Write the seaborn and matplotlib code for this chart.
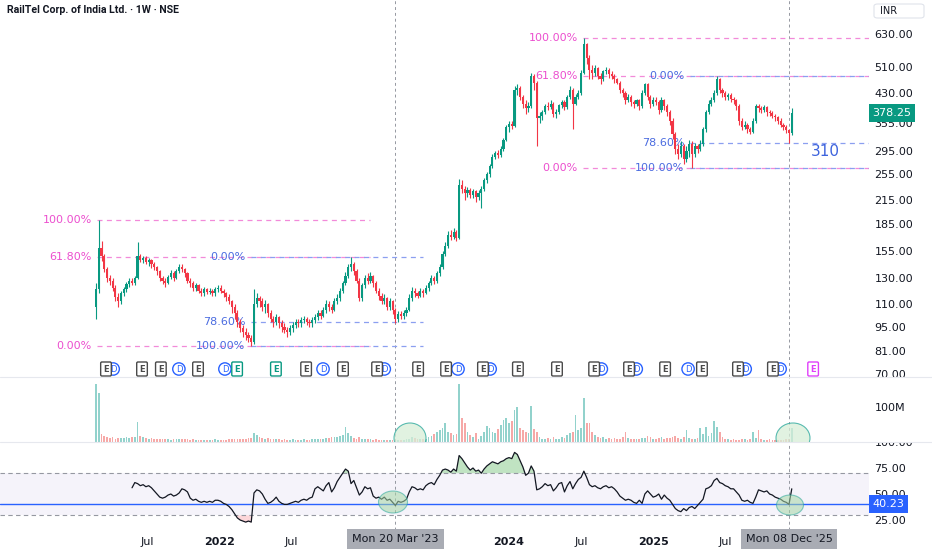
import numpy as np
import pandas as pd
import matplotlib
matplotlib.use("Agg")
import matplotlib.pyplot as plt
import seaborn as sns
from matplotlib.patches import Ellipse, Rectangle, FancyBboxPatch
from matplotlib.lines import Line2D
from matplotlib.ticker import NullLocator
from matplotlib.transforms import blended_transform_factory as btf

# ---------------- data (weekly, from week of 2021-02-22) ----------------
first_open = 108
closes = [
    121,158,150,138,130,128,122,115,112,118,
    121,125,128,126,130,150,146,148,144,146,
    142,140,136,130,128,126,131,134,130,136,
    140,138,134,128,126,122,124,120,118,121,
    119,120,118,121,122,120,118,115,112,108,
    104,98,94,92,90,88,86,110,114,112,
    108,110,104,100,98,101,97,95,93,92,
    94,96,98,97,99,100,98,97,99,101,
    104,102,106,110,108,106,112,114,120,126,
    132,140,142,136,128,114,124,130,128,132,
    126,120,116,112,114,108,112,106,100,103,
    102,104,106,114,120,118,116,120,118,122,
    126,130,128,134,140,152,160,172,170,175,
    168,238,232,225,230,222,228,220,226,232,
    245,255,268,285,292,288,300,318,345,352,
    348,440,445,420,400,390,395,480,460,365,
    370,380,395,392,400,375,380,398,405,392,
    420,440,402,420,430,490,590,540,500,490,
    505,480,470,495,500,485,480,470,460,440,
    430,410,420,405,400,410,395,430,455,420,
    400,410,405,385,410,395,380,360,330,300,
    290,305,280,295,310,290,305,300,310,340,
    380,400,410,430,470,440,430,420,425,415,
    410,395,360,345,350,340,335,360,395,390,
    385,392,380,378,372,368,360,350,345,338,
    333,378.25,
]
highs = [
    126,189,165,152,140,133,130,124,118,120,
    123,127,130,130,132,164,152,150,150,148,
    147,144,141,137,132,130,133,137,136,138,
    142,142,139,135,130,128,126,125,122,123,
    122,122,121,123,124,124,121,119,117,113,
    110,106,100,96,94,92,90,121,118,116,
    114,113,111,106,102,103,102,99,97,95,
    96,98,100,100,101,102,101,100,101,103,
    106,106,108,113,112,110,114,117,122,128,
    135,142,149,144,138,130,126,133,134,135,
    133,128,122,118,117,115,114,113,107,105,
    105,106,108,117,123,122,120,122,121,124,
    128,133,132,136,142,155,164,176,178,180,
    177,247,245,236,234,233,232,230,230,236,
    248,258,272,290,296,298,305,322,350,358,
    360,450,455,450,425,410,405,490,485,465,
    380,385,400,405,410,405,388,402,412,410,
    425,450,445,428,440,500,614,595,550,515,
    515,510,490,500,510,505,495,485,475,465,
    445,435,428,425,412,415,415,440,460,458,
    425,418,420,410,418,415,400,385,365,335,
    310,315,310,305,318,315,312,310,318,345,
    385,410,418,440,480,475,445,435,430,430,
    420,415,400,365,360,355,345,365,402,400,
    395,398,395,385,382,376,372,365,355,350,
    342,390,
]
lows = [
    100,118,145,135,127,124,120,112,108,110,
    116,119,123,124,124,129,144,143,142,141,
    139,137,133,128,125,123,125,129,128,129,
    134,135,131,126,123,120,120,118,116,116,
    117,117,116,116,119,118,115,112,110,104,
    100,95,92,89,87,86,84,85,108,108,
    105,104,101,98,95,96,94,92,91,89,
    90,92,94,95,95,97,96,95,95,97,
    99,100,101,104,105,104,105,110,112,118,
    124,130,136,133,126,112,112,122,125,126,
    123,118,113,110,110,106,106,103,97,98,
    100,100,102,105,112,115,114,115,115,117,
    120,124,125,126,132,138,150,158,166,167,
    165,167,225,215,220,218,218,212,215,205,
    228,240,250,265,280,282,285,295,315,335,
    340,345,425,410,390,375,380,390,440,305,
    355,362,375,385,388,368,365,375,390,385,
    388,415,340,398,415,425,485,520,470,470,
    480,470,455,465,485,475,470,460,455,430,
    420,400,405,395,390,395,385,390,425,410,
    390,395,398,375,380,385,370,350,320,290,
    280,285,272,275,285,265,285,292,295,305,
    335,375,395,405,425,430,420,412,410,405,
    400,385,350,338,340,333,330,332,355,380,
    378,380,372,370,365,360,352,345,338,332,
    311,328,
]
volume_m = [
    165,140,22,18,15,12,14,10,12,11,
    12,14,12,13,15,57,18,14,12,10,
    12,9,10,8,9,8,9,7,8,8,
    9,10,9,8,7,8,7,6,6,7,
    6,7,6,8,6,7,6,7,8,8,
    9,9,8,9,10,12,11,26,20,14,
    12,10,11,9,8,8,9,7,8,7,
    7,8,7,6,7,8,7,7,8,9,
    8,10,9,11,12,15,13,15,18,20,
    43,25,16,12,10,14,9,10,8,9,
    7,8,6,7,5,6,5,6,8,6,
    5,7,8,10,14,12,9,10,8,10,
    14,18,22,28,34,40,54,30,25,20,
    22,165,69,55,30,20,15,25,10,18,
    28,45,40,28,25,38,50,62,70,55,
    60,91,100,40,35,28,25,103,38,30,
    15,10,8,12,9,14,8,10,15,12,
    20,25,30,77,35,40,126,54,54,30,
    20,14,12,15,10,11,9,12,10,9,
    13,28,12,9,8,10,9,12,11,18,
    14,10,9,11,13,10,12,11,15,18,
    12,10,14,34,11,10,9,12,40,22,
    43,18,26,60,43,28,15,10,8,7,
    8,6,7,8,9,7,8,28,12,34,
    9,7,6,8,6,5,7,6,5,8,
    10,40,
]
nan = np.nan
rsi = [
    nan,nan,nan,nan,nan,nan,nan,nan,nan,nan,
    nan,nan,nan,56,61,60,58,59,57,58,
    56,53,50,47,46,47,49,50,48,49,
    51,55,54,52,46,44,45,43,42,43,
    42,43,42,44,44,43,41,40,38,35,
    31,27,25,24,23,24,23,51,54,53,
    50,45,41,42,44,47,43,41,40,40,
    41,42,43,42,44,45,44,46,47,55,
    57,55,53,58,61,52,56,62,66,70,
    74,72,60,63,56,49,52,57,55,56,
    48,46,47,45,47,44,45,42,39,43,
    42,43,45,52,57,56,54,55,54,58,
    60,61,59,64,68,73,74,73,71,74,
    72,87,84,80,76,73,75,72,73,70,
    74,77,79,81,80,79,81,82,84,85,
    84,90,88,82,76,68,70,77,72,54,
    55,57,60,58,59,53,56,60,61,52,
    58,62,55,60,64,66,72,66,59,57,
    58,56,55,57,58,56,57,55,52,48,
    46,44,45,44,42,41,44,41,50,53,
    50,47,48,50,45,49,46,44,40,36,
    34,33,36,34,37,38,36,39,42,45,
    55,56,58,63,65,61,60,58,57,55,
    55,52,49,44,43,44,42,41,47,54,
    53,52,53,50,49,47,46,45,43,42,
    40,55,
]
price_ticks = [630, 510, 430, 355, 295, 255, 215, 185, 155, 130, 110, 95, 81, 70]
rsi_ticks = [25, 50, 75, 100]
rsi_level = 40.23
last_price = 378.25
x_tick_dates = ["2021-07-01", "2022-01-01", "2022-07-01", "2024-01-01", "2024-07-01", "2025-01-01", "2025-07-01"]
x_tick_labels = ["Jul", "2022", "Jul", "2024", "Jul", "2025", "Jul"]
cross_dates = ["2023-03-20", "2025-12-08"]
cross_labels = ["Mon 20 Mar '23", "Mon 08 Dec '25"]
# fib swings (price)
fib1_high, fib1_low = 189.3, 83.9
fib1b_high, fib1b_low = 149.0, 83.9
fib2_high, fib2_low = 614.0, 265.0
fib2b_high, fib2b_low = 480.7, 265.0
# events: (week index, kind)
events = [(3.6, "E"), (16.6, "E"), (23.4, "E"), (29.9, "D"), (36.8, "E"), (46.5, "D"), (50.9, "Eg"),
          (64.9, "Eg"), (75.8, "E"), (81.9, "D"), (89.1, "E"), (101.4, "E"), (116.2, "E"), (126.3, "E"),
          (130.6, "D"), (139.6, "E"), (152.2, "E"), (166.3, "E"), (179.7, "E"), (192.3, "E"), (205.3, "E"),
          (213.6, "D"), (218.6, "E"), (231.6, "E"), (244.2, "E"), (258.7, "Ep")]
hidden_d = [3.6, 101.4, 139.6, 179.7, 192.3, 231.6, 244.2]

n = len(closes)
for arr in (highs, lows, volume_m, rsi):
    assert len(arr) == n, len(arr)

start = pd.Timestamp("2021-02-22")
def widx(d):
    return (pd.Timestamp(d) - start).days / 7.0

idx = np.arange(n)
c = np.array(closes, float)
o = np.array([first_open] + closes[:-1], float)
hi = np.maximum(np.array(highs, float), np.maximum(o, c))
lo = np.minimum(np.array(lows, float), np.minimum(o, c))
up = c >= o
GREEN, RED = "#089981", "#f23645"
cols = np.where(up, GREEN, RED)

# ---------------- layout ----------------
sns.set_theme(style="white")
plt.rcParams['font.family'] = ['DejaVu Sans']
W, H = 932, 550
fig = plt.figure(figsize=(W / 100, H / 100), dpi=100)
def fx(px): return px / W
def fy(py): return 1 - py / H

RIGHT = 869
X0 = 96.0
PXW = 2.772
ax_p = fig.add_axes([0, fy(377), RIGHT / W, 377 / H])
ax_v = fig.add_axes([0, fy(442), RIGHT / W, 65 / H])
ax_r = fig.add_axes([0, fy(530), RIGHT / W, 88 / H])
xlim = (-X0 / PXW, (RIGHT - X0) / PXW)
for ax in (ax_p, ax_v, ax_r):
    ax.set_xlim(*xlim)
    ax.set_facecolor("white")
    for s in ax.spines.values():
        s.set_visible(False)
    ax.yaxis.tick_right()
    ax.tick_params(axis="y", length=0, pad=4, labelsize=8, labelcolor="#131722")
    ax.tick_params(axis="x", length=0)
ax_p.set_xticks([]); ax_v.set_xticks([])

# ---------------- price pane ----------------
ax_p.set_yscale("log")
ax_p.set_ylim(68.6, 785)
ax_p.set_yticks(price_ticks)
ax_p.set_yticklabels([f"{v:.2f}" for v in price_ticks])
ax_p.yaxis.set_minor_locator(NullLocator())

ax_p.vlines(idx, lo, hi, colors=cols, lw=0.8, zorder=3)
body = np.maximum(np.abs(c - o), c * 0.005)
ax_p.bar(idx, body, bottom=np.minimum(o, c), width=0.78, color=cols, linewidth=0, zorder=4)

PINK_T, PINK_L = "#ec4fcf", "#f28ad9"
BLUE_T, BLUE_L = "#4a6be0", "#8b9ff0"
def fib(x0, x1, pairs, tcol, lcol):
    for lab, price in pairs:
        ax_p.plot([x0, x1], [price, price], color=lcol, lw=0.9, ls=(0, (4, 3.5)), zorder=2)
        ax_p.annotate(lab, xy=(x0, price), xytext=(-4, 0), textcoords="offset points",
                      ha="right", va="center", color=tcol, fontsize=8, zorder=2)
x_end = xlim[1]
fib(0.5, 99, [("100.00%", fib1_high), ("61.80%", fib1_low + 0.618 * (fib1_high - fib1_low)),
              ("0.00%", fib1_low)], PINK_T, PINK_L)
fib(55.8, 118, [("0.00%", fib1b_high), ("78.60%", fib1b_high - 0.786 * (fib1b_high - fib1b_low)),
                ("100.00%", fib1b_low)], BLUE_T, BLUE_L)
fib(175.8, x_end, [("100.00%", fib2_high), ("61.80%", fib2_low + 0.618 * (fib2_high - fib2_low)),
                   ("0.00%", fib2_low)], PINK_T, PINK_L)
fib(214.3, x_end, [("0.00%", fib2b_high), ("78.60%", fib2b_high - 0.786 * (fib2b_high - fib2b_low)),
                   ("100.00%", fib2b_low)], BLUE_T, BLUE_L)
ax_p.text(263, 294, "310", color="#3d63dd", fontsize=11, ha="center", va="center")

ax_p.annotate(f"{last_price:.2f}", xy=(1, last_price), xycoords=("axes fraction", "data"),
              xytext=(2.5, 0), textcoords="offset points", ha="left", va="center",
              color="white", fontsize=8, annotation_clip=False,
              bbox=dict(boxstyle="square,pad=0.35", fc=GREEN, ec="none"), zorder=10)

# events row
tr = btf(ax_p.transData, ax_p.transAxes)
ey = (377 - 369) / 377
for xd in hidden_d:
    ax_p.text(xd + 2.6, ey, "D", transform=tr, ha="center", va="center", fontsize=6, color="#2962ff",
              bbox=dict(boxstyle="circle,pad=0.2", fc="white", ec="#2962ff", lw=1.0), zorder=5)
for xd, kind in events:
    if kind == "D":
        ax_p.text(xd, ey, "D", transform=tr, ha="center", va="center", fontsize=6, color="#2962ff",
                  bbox=dict(boxstyle="circle,pad=0.2", fc="white", ec="#2962ff", lw=1.0), zorder=6)
    else:
        ec = {"E": "#4a4a4a", "Eg": GREEN, "Ep": "#e040fb"}[kind]
        ax_p.text(xd, ey, "E", transform=tr, ha="center", va="center", fontsize=6, color=ec,
                  fontweight="bold",
                  bbox=dict(boxstyle="round,pad=0.3,rounding_size=0.15", fc="white", ec=ec, lw=1.0), zorder=7)

# ---------------- volume pane ----------------
vcols = np.where(up, "#26a69a", "#ef5350")
ax_v.bar(idx, volume_m, width=0.62, color=vcols, alpha=0.5, linewidth=0)
ax_v.set_ylim(0, 186)
ax_v.set_yticks([100]); ax_v.set_yticklabels(["100M"])
for cx, cy, w, h in [(410, 438, 32, 30), (793, 438, 34, 30)]:
    ax_v.add_patch(Ellipse((fx(cx), fy(cy)), w / W, h / H, transform=fig.transFigure,
                           fc="#d7eed8", ec="#26a69a", lw=0.8, alpha=0.75, zorder=5))

# ---------------- RSI pane ----------------
r = np.array(rsi, float)
ax_r.axhspan(30, 70, color="#7e57c2", alpha=0.07, lw=0)
ax_r.axhline(70, color="#9598a1", lw=0.8, ls=(0, (4, 3)))
ax_r.axhline(30, color="#9598a1", lw=0.8, ls=(0, (4, 3)))
ax_r.axhline(rsi_level, color="#2962ff", lw=1.0)
ax_r.fill_between(idx, r, 70, where=r > 70, interpolate=True, color="#4caf50", alpha=0.35, lw=0)
ax_r.fill_between(idx, r, 30, where=r < 30, interpolate=True, color="#f23645", alpha=0.2, lw=0)
sns.lineplot(x=idx, y=r, ax=ax_r, color="#131722", lw=0.9, legend=False)
ax_r.set_xlabel(""); ax_r.set_ylabel("")
ax_r.set_ylim(15.4, 100)
ax_r.set_yticks(rsi_ticks); ax_r.set_yticklabels([f"{v:.2f}" for v in rsi_ticks])
ax_r.set_xlim(*xlim)
ax_r.set_xticks([widx(d) for d in x_tick_dates])
ax_r.set_xticklabels(x_tick_labels)
ax_r.tick_params(axis="x", labelsize=8, pad=5, labelcolor="#131722")
for t in ax_r.get_xticklabels():
    if t.get_text().isdigit():
        t.set_fontweight("bold")
ax_r.annotate(f"{rsi_level:.2f}", xy=(1, rsi_level), xycoords=("axes fraction", "data"),
              xytext=(2.5, 0), textcoords="offset points", ha="left", va="center",
              color="white", fontsize=8, annotation_clip=False,
              bbox=dict(boxstyle="square,pad=0.35", fc="#2962ff", ec="none"), zorder=10)
for cx, cy, w, h in [(393, 502, 29, 22), (790, 505, 27, 20)]:
    ax_r.add_patch(Ellipse((fx(cx), fy(cy)), w / W, h / H, transform=fig.transFigure,
                           fc="#a5d6a7", ec="#26a69a", lw=0.8, alpha=0.55, zorder=5))

# crosshair lines and date labels
for d, lab in zip(cross_dates, cross_labels):
    xd = widx(d)
    for ax in (ax_p, ax_v, ax_r):
        ax.axvline(xd, color="#9598a1", lw=0.7, ls=(0, (3, 3)), zorder=1)
    ax_r.annotate(lab, xy=(xd, 0), xycoords=("data", "axes fraction"), xytext=(0, -6.5),
                  textcoords="offset points", ha="center", va="center", fontsize=8, color="#131722",
                  annotation_clip=False, zorder=10,
                  bbox=dict(boxstyle="square,pad=0.45", fc="#a9acb4", ec="none"))

# cover top half of the RSI 100 label, pane separators
fig.add_artist(Rectangle((fx(RIGHT), fy(442)), 1 - fx(RIGHT), 12 / H, transform=fig.transFigure,
                         fc="white", ec="none", zorder=5))
for yy in (377, 442):
    fig.add_artist(Line2D([0, 1], [fy(yy), fy(yy)], transform=fig.transFigure, color="#e6e8ee", lw=0.8, zorder=6))

# header
fig.text(fx(7), fy(10), "RailTel Corp. of India Ltd. · 1W · NSE", fontsize=7.6, fontweight="bold",
         color="#131722", ha="left", va="center", family=["Roboto", "DejaVu Sans"])
fig.add_artist(FancyBboxPatch((fx(874), fy(18)), 50 / W, 14 / H, boxstyle="round,pad=0,rounding_size=0.004",
                              transform=fig.transFigure, fc="white", ec="#e0e3eb", lw=0.8, zorder=6))
fig.text(fx(880), fy(11), "INR", fontsize=7, color="#131722", ha="left", va="center", zorder=7)

fig.savefig("out.png", dpi=100)
